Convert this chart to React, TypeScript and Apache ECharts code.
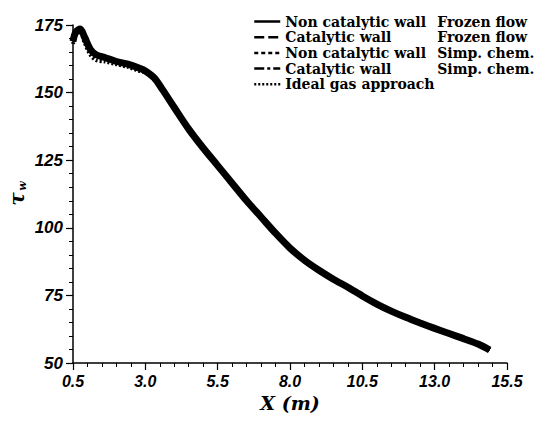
import React, { useEffect, useRef } from "react";
import * as echarts from "echarts";

const xValues = [0.5, 0.6, 0.75, 0.9, 1.1, 1.3, 1.6, 2.0, 2.4, 2.8, 3.0, 3.3, 3.6, 4.0, 4.5, 5.0, 5.5, 6.0, 6.5, 7.0, 7.5, 8.0, 8.5, 9.0, 9.5, 10.0, 10.5, 11.0, 11.5, 12.0, 12.5, 13.0, 13.5, 14.0, 14.5, 14.9];
const wallValues = [169, 172.5, 173.5, 170.5, 166, 164, 163, 161.5, 160.5, 159, 158, 155.5, 151, 144.5, 136.5, 129.5, 123, 116.5, 110, 104, 98, 92.5, 88, 84.3, 81, 78, 74.8, 71.8, 69.2, 66.9, 64.8, 62.8, 60.9, 59, 57, 54.8];
const idealGasValues = [168, 171.5, 172.5, 168.5, 164, 162, 161.5, 160.5, 159.5, 158, 157.5, 155, 151, 144.5, 136.5, 129.5, 123, 116.5, 110, 104, 98, 92.5, 88, 84.3, 81, 78, 74.8, 71.8, 69.2, 66.9, 64.8, 62.8, 60.9, 59, 57, 54.8];
const seriesNames = [
  "Non catalytic wall|Frozen flow",
  "Catalytic wall|Frozen flow",
  "Non catalytic wall|Simp. chem.",
  "Catalytic wall|Simp. chem.",
  "Ideal gas approach",
];
const xTickLabels = ["0.5", "3.0", "5.5", "8.0", "10.5", "13.0", "15.5"];
const yTickLabels = ["50", "75", "100", "125", "150", "175"];

const lineStyles: any[] = [
  { type: "solid", width: 7 },
  { type: [10, 4], width: 5 },
  { type: [4, 3], width: 5 },
  { type: [10, 3, 3, 3], width: 4.5 },
  { type: [2, 2], width: 4 },
];

const legendFont = { fontFamily: "DejaVu Serif", fontWeight: "bold", fontSize: 14, lineHeight: 15, color: "#000" };

export default function App() {
  const ref = useRef<HTMLDivElement>(null);
  useEffect(() => {
    if (!ref.current) return;
    const chart = echarts.init(ref.current, undefined, { renderer: "svg" });
    const pairs = (ys: number[]) => xValues.map((x, i) => [x, ys[i]]);
    const dataSets = [wallValues, wallValues, wallValues, wallValues, idealGasValues];
    chart.setOption({
      animation: false,
      backgroundColor: "#fff",
      grid: { left: 73, right: 43, top: 25, bottom: 61 },
      graphic: [
        {
          type: "text",
          x: 17,
          y: 199,
          rotation: Math.PI / 2,
          style: {
            text: "τ",
            align: "center",
            verticalAlign: "middle",
            fontFamily: "DejaVu Serif",
            fontWeight: "bold",
            fontStyle: "italic",
            fontSize: 20,
            fill: "#000",
          },
        },
        {
          type: "text",
          x: 22,
          y: 186,
          rotation: Math.PI / 2,
          style: {
            text: "w",
            align: "center",
            verticalAlign: "middle",
            fontFamily: "DejaVu Serif",
            fontWeight: "bold",
            fontStyle: "italic",
            fontSize: 11,
            fill: "#000",
          },
        },
      ],
      legend: {
        orient: "vertical",
        left: 248,
        top: 9,
        itemWidth: 26,
        itemHeight: 14,
        itemGap: 0.7,
        data: seriesNames,
        itemStyle: { opacity: 0 },
        lineStyle: { width: 2.5 },
        formatter: (name: string) => {
          const [a, b] = name.split("|");
          return b ? `{a|${a}}{b|${b}}` : `{a|${a}}`;
        },
        textStyle: {
          ...legendFont,
          rich: {
            a: { ...legendFont, width: 152 },
            b: { ...legendFont },
          },
        },
      },
      xAxis: {
        type: "value",
        min: 0.5,
        max: 15.5,
        interval: 2.5,
        name: "X (m)",
        nameLocation: "middle",
        nameGap: 24,
        nameTextStyle: {
          fontFamily: "DejaVu Serif",
          fontWeight: "bold",
          fontStyle: "italic",
          fontSize: 19,
          color: "#000",
        },
        axisLine: { lineStyle: { color: "#000", width: 1.5 } },
        axisTick: { length: 7, lineStyle: { color: "#000", width: 1.2 } },
        minorTick: { show: true, splitNumber: 5, length: 4, lineStyle: { color: "#000", width: 1 } },
        splitLine: { show: false },
        axisLabel: {
          fontFamily: "Liberation Sans",
          fontWeight: "bold",
          fontStyle: "italic",
          color: "#000",
          fontSize: 16,
          margin: 10,
          showMinLabel: true,
          showMaxLabel: true,
          formatter: (v: number) => {
            const s = v.toFixed(1);
            return xTickLabels.includes(s) ? s : "";
          },
        },
      },
      yAxis: {
        type: "value",
        min: 50,
        max: 175,
        interval: 25,
        axisLine: { show: true, lineStyle: { color: "#000", width: 1.5 } },
        axisTick: { show: true, length: 7, lineStyle: { color: "#000", width: 1.2 } },
        minorTick: { show: true, splitNumber: 5, length: 4, lineStyle: { color: "#000", width: 1 } },
        splitLine: { show: false },
        axisLabel: {
          fontFamily: "Liberation Sans",
          fontWeight: "bold",
          fontStyle: "italic",
          color: "#000",
          fontSize: 17,
          margin: 10,
          formatter: (v: number) => {
            const s = String(v);
            return yTickLabels.includes(s) ? s : "";
          },
        },
      },
      series: seriesNames.map((name, i) => ({
        name,
        type: "line",
        data: pairs(dataSets[i]),
        symbol: "none",
        smooth: 0.3,
        color: "#000",
        lineStyle: { color: "#000", ...lineStyles[i] },
        z: 5 - i,
      })),
    });
    return () => chart.dispose();
  }, []);
  return (
    <div
      ref={ref}
      style={{ position: "fixed", left: 0, top: 0, width: 550, height: 424, background: "#fff" }}
    />
  );
}
